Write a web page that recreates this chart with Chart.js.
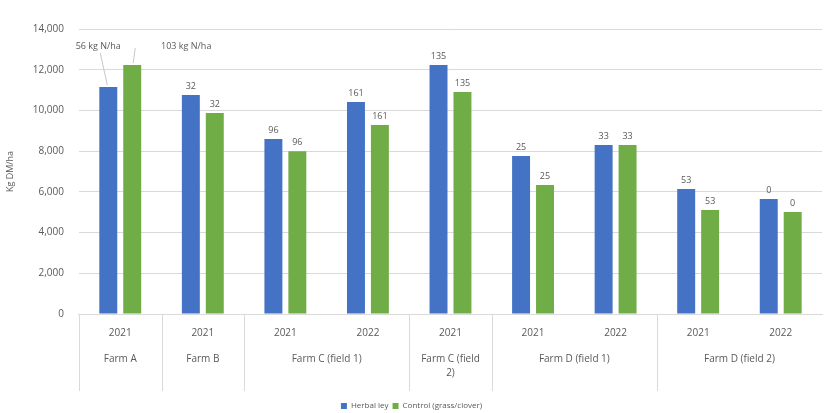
<!DOCTYPE html>
<html>
<head>
<meta charset="utf-8">
<script src="https://cdn.jsdelivr.net/npm/chart.js@4/dist/chart.umd.min.js"></script>
<style>
  html, body { margin: 0; padding: 0; background: #fff; }
  #wrap { width: 830px; height: 413px; }
</style>
</head>
<body>
<div id="wrap"><canvas id="chart"></canvas></div>
<script>
// years under each bar pair
const years = ['2021', '2021', '2021', '2022', '2021', '2021', '2022', '2021', '2022'];
// farm groups and how many years each covers
const farms = ['Farm A', 'Farm B', 'Farm C (field 1)', ['Farm C (field', '2)'], 'Farm D (field 1)', 'Farm D (field 2)'];
const farmSpans = [1, 1, 2, 1, 2, 2];

const herbalLey = [11150, 10760, 8600, 10410, 12230, 7760, 8300, 6140, 5650];
const control = [12230, 9870, 8000, 9280, 10900, 6340, 8300, 5110, 5010];

// N labels above bars
const herbalLabels = ['56 kg N/ha', '32', '96', '161', '135', '25', '33', '53', '0'];
const controlLabels = ['103 kg N/ha', '32', '96', '161', '135', '25', '33', '53', '0'];

const yTicks = [0, 2000, 4000, 6000, 8000, 10000, 12000, 14000];

const TXT = '#595959';
const FONT = "'Open Sans', 'Noto Sans', sans-serif";
const AXIS_H = 84;
const SEP_H = 77;

Chart.defaults.font.family = FONT;
Chart.defaults.color = TXT;

// draws the N values over the bars (first pair gets callout labels)
const barLabels = {
    id: 'barLabels',
    afterDatasetsDraw(chart) {
        const ctx = chart.ctx;
        ctx.save();
        ctx.font = '9px ' + FONT;
        ctx.fillStyle = TXT;
        ctx.textAlign = 'center';
        ctx.textBaseline = 'bottom';
        const sets = [herbalLabels, controlLabels];
        sets.forEach((labels, di) => {
            const meta = chart.getDatasetMeta(di);
            meta.data.forEach((bar, i) => {
                if (i === 0) {
                    // callouts with leader line
                    const lx = di === 0 ? bar.x - 10 : bar.x + 54;
                    const ly = 51;
                    ctx.fillText(labels[i], lx, ly);
                    ctx.strokeStyle = '#c8c8c8';
                    ctx.lineWidth = 1;
                    ctx.beginPath();
                    if (di === 0) {
                        ctx.moveTo(bar.x - 8, ly + 2);
                        ctx.lineTo(bar.x - 1, bar.y - 2);
                    } else {
                        ctx.moveTo(bar.x + 3, ly - 3);
                        ctx.lineTo(bar.x + 1, bar.y - 2);
                    }
                    ctx.stroke();
                } else {
                    ctx.fillText(labels[i], bar.x, bar.y - 4);
                }
            });
        });
        ctx.restore();
    }
};

// second level of the category axis: farm names and separators
const farmAxis = {
    id: 'farmAxis',
    afterDraw(chart) {
        const ctx = chart.ctx;
        const x = chart.scales.x;
        const top = chart.chartArea.bottom;
        const half = (x.getPixelForValue(1) - x.getPixelForValue(0)) / 2;
        ctx.save();
        ctx.strokeStyle = '#d9d9d9';
        ctx.lineWidth = 1;
        ctx.font = '10px ' + FONT;
        ctx.fillStyle = TXT;
        ctx.textAlign = 'center';
        ctx.textBaseline = 'middle';
        let start = 0;
        const edges = [x.getPixelForValue(0) - half];
        farmSpans.forEach((span, g) => {
            const left = x.getPixelForValue(start) - half;
            const right = x.getPixelForValue(start + span - 1) + half;
            edges.push(right);
            const lines = Array.isArray(farms[g]) ? farms[g] : [farms[g]];
            lines.forEach((t, k) => ctx.fillText(t, (left + right) / 2, top + 45 + k * 14));
            start += span;
        });
        edges.slice(0, -1).forEach(px => {
            const xx = Math.round(px) + 0.5;
            ctx.beginPath();
            ctx.moveTo(xx, top);
            ctx.lineTo(xx, top + SEP_H);
            ctx.stroke();
        });
        ctx.restore();
    }
};

new Chart(document.getElementById('chart'), {
    type: 'bar',
    data: {
        labels: years,
        datasets: [
            { label: 'Herbal ley', data: herbalLey, backgroundColor: '#4472C4' },
            { label: 'Control (grass/clover)', data: control, backgroundColor: '#70AD47' }
        ]
    },
    options: {
        responsive: true, maintainAspectRatio: false, animation: false,
        categoryPercentage: 0.58, barPercentage: 0.75,
        layout: { padding: { top: 29, right: 8, left: 1, bottom: -7 } },
        plugins: {
            legend: {
                position: 'bottom',
                labels: { boxWidth: 6, boxHeight: 6, padding: 4, font: { size: 8 } }
            },
            tooltip: { enabled: false }
        },
        scales: {
            x: {
                grid: { display: false, drawTicks: false },
                border: { color: '#d9d9d9' },
                ticks: { font: { size: 10 }, padding: 13 },
                afterFit(scale) { scale.height = AXIS_H; }
            },
            y: {
                min: 0, max: 14000,
                afterBuildTicks(scale) { scale.ticks = yTicks.map(v => ({ value: v })); },
                grid: { color: '#d9d9d9', drawTicks: false },
                border: { display: false },
                ticks: {
                    font: { size: 10 }, padding: 15,
                    callback: v => v.toLocaleString('en-US')
                },
                title: { display: true, text: 'Kg DM/ha', font: { size: 9 }, padding: { bottom: 2 } }
            }
        }
    },
    plugins: [barLabels, farmAxis]
});
</script>
</body>
</html>
